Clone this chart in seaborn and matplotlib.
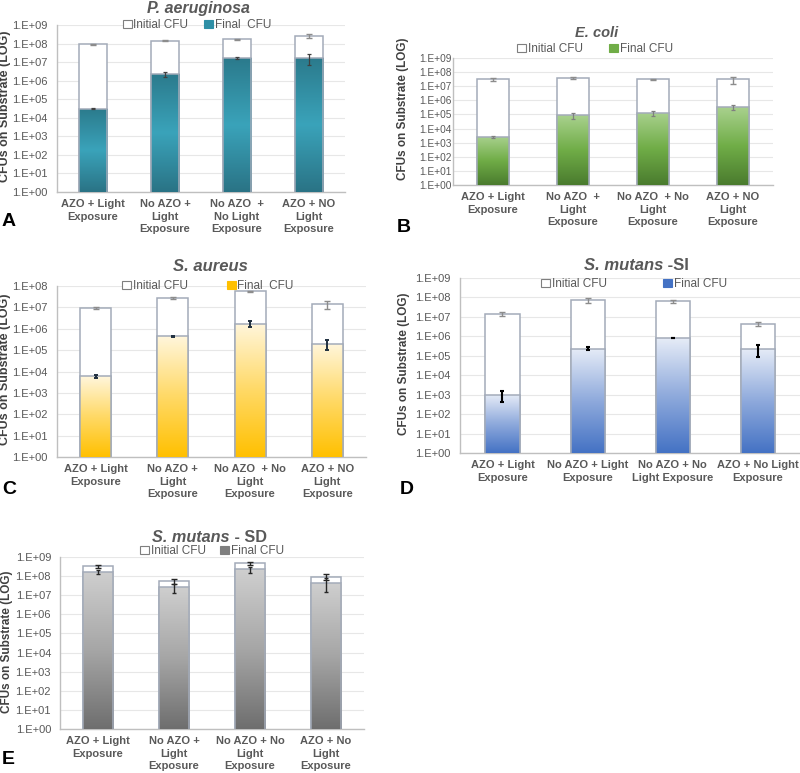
import numpy as np
import pandas as pd
import matplotlib
matplotlib.use("Agg")
import matplotlib.pyplot as plt
import seaborn as sns
from matplotlib.colors import LinearSegmentedColormap
from matplotlib.patches import Patch
from matplotlib.ticker import LogLocator, FuncFormatter, NullLocator

# CFU values
pa_labels = ["AZO + Light\nExposure", "No AZO +\nLight\nExposure",
             "No AZO  +\nNo Light\nExposure", "AZO + NO\nLight\nExposure"]
pa_initial = [9.0e7, 1.45e8, 1.7e8, 2.6e8]
pa_initial_sd = [5e6, 1.5e7, 8e6, 6.5e7]
pa_final = [3.0e4, 2.3e6, 1.6e7, 1.7e7]
pa_final_sd = [2e3, 8e5, 2e6, 1e7]

ec_labels = ["AZO + Light\nExposure", "No AZO  +\nLight\nExposure",
             "No AZO  + No\nLight\nExposure", "AZO + NO\nLight\nExposure"]
ec_initial = [3.0e7, 3.6e7, 3.0e7, 3.0e7]
ec_initial_sd = [6e6, 6e6, 4e6, 1.5e7]
ec_final = [2.6e3, 8.5e4, 1.3e5, 3.2e5]
ec_final_sd = [4e2, 4e4, 5e4, 1.2e5]

sa_labels = ["AZO + Light\nExposure", "No AZO +\nLight\nExposure",
             "No AZO  + No\nLight\nExposure", "AZO + NO\nLight\nExposure"]
sa_initial = [9.5e6, 2.8e7, 5.6e7, 1.4e7]
sa_initial_sd = [8e5, 3e6, 4e6, 6e6]
sa_final = [5.9e3, 4.5e5, 1.7e6, 2.0e5]
sa_final_sd = [1e3, 3e4, 5e5, 1e5]

si_labels = ["AZO + Light\nExposure", "No AZO + Light\nExposure",
             "No AZO + No\nLight Exposure", "AZO + No Light\nExposure"]
si_initial = [1.4e7, 7.0e7, 6.5e7, 4.5e6]
si_initial_sd = [3e6, 2e7, 1.2e7, 1.2e6]
si_final = [1.0e3, 2.3e5, 8.2e5, 2.3e5]
si_final_sd = [6e2, 4e4, 3e4, 1.4e5]

sd_labels = ["AZO + Light\nExposure", "No AZO +\nLight\nExposure",
             "No AZO + No\nLight\nExposure", "AZO + No\nLight\nExposure"]
sd_initial = [3.3e8, 5.5e7, 4.7e8, 9.3e7]
sd_initial_sd = [5e7, 1.5e7, 1e8, 3e7]
sd_final = [1.7e8, 2.7e7, 2.3e8, 4.5e7]
sd_final_sd = [4e7, 1.4e7, 8e7, 3e7]

W, H = 800, 773
GREY = "#595959"
EDGE = "#a3abb9"

sns.set_style("white")
plt.rcParams["font.family"] = ["Liberation Sans", "DejaVu Sans"]


def px_rect(l, t, r, b):
    return [l / W, 1 - b / H, (r - l) / W, (b - t) / H]


def fx(x):
    return x / W


def fy(y):
    return 1 - y / H


def draw_panel(fig, rect, labels, initial, initial_sd, final, final_sd, ymax,
               colors, ini_ecolor, fin_ecolor, fin_elw, ytick_size, ytick_pad):
    ax = fig.add_axes(rect)
    df = pd.DataFrame({"cond": labels, "initial": initial, "final": final})
    sns.barplot(data=df, x="cond", y="initial", color="white", edgecolor=EDGE,
                linewidth=1.1, width=0.4, ax=ax, zorder=2)
    n_init = len(ax.patches)
    sns.barplot(data=df, x="cond", y="final", color=colors[-1], edgecolor=EDGE,
                linewidth=1.1, width=0.4, ax=ax, zorder=4)
    final_bars = ax.patches[n_init:]

    ax.set_yscale("log")
    ax.set_ylim(1, ymax)
    ax.set_xlim(-0.5, len(labels) - 0.5)
    ax.set_autoscale_on(False)

    x = np.arange(len(labels))
    ax.errorbar(x, initial, yerr=initial_sd, fmt="none", ecolor=ini_ecolor,
                elinewidth=1, capsize=2, capthick=1, zorder=3)
    ax.errorbar(x, final, yerr=final_sd, fmt="none", ecolor=fin_ecolor,
                elinewidth=fin_elw, capsize=1.5, capthick=fin_elw, zorder=6)

    # vertical gradient fill for each final bar (top -> bottom colours)
    cmap = LinearSegmentedColormap.from_list("grad", colors)
    grad = np.linspace(0, 1, 256).reshape(-1, 1)
    to_axes = ax.transData + ax.transAxes.inverted()
    for bar in final_bars:
        x0 = bar.get_x()
        x1 = x0 + bar.get_width()
        top = bar.get_height()
        (ax0, ay0), (ax1, ay1) = to_axes.transform([(x0, 1), (x1, top)])
        im = ax.imshow(grad, cmap=cmap, extent=[ax0, ax1, ay0, ay1],
                       transform=ax.transAxes, aspect="auto", origin="upper",
                       interpolation="bilinear", zorder=4.5)
        im.set_clip_path(bar)
        bar.set_facecolor("none")
        bar.set_zorder(5)

    ax.yaxis.set_major_locator(LogLocator(base=10, numticks=20))
    ax.yaxis.set_minor_locator(NullLocator())
    ax.yaxis.set_major_formatter(
        FuncFormatter(lambda v, _: f"1.E+{int(round(np.log10(v))):02d}"))
    ax.yaxis.grid(True, color="#e7e7e7", lw=0.8)
    ax.xaxis.grid(False)
    ax.set_axisbelow(True)
    for s in ["top", "right"]:
        ax.spines[s].set_visible(False)
    for s in ["left", "bottom"]:
        ax.spines[s].set_color("#bfbfbf")
        ax.spines[s].set_linewidth(1)
    ax.tick_params(axis="y", length=0, pad=ytick_pad, labelsize=ytick_size,
                   labelcolor=GREY)
    ax.tick_params(axis="x", length=0, pad=5)
    ax.set_xticks(x, labels, fontsize=8, fontweight="bold", color=GREY)
    for lbl in ax.get_xticklabels():
        lbl.set_linespacing(1.33)
    ax.set_xlabel("")
    ax.set_ylabel("")
    return ax


def panel_text(fig, ax, title, rest, tx, ty, tsize, leg_xy, leg_colsp,
               final_label, final_color, ylab_xy, ylab_size, letter, letter_xy):
    if rest:
        t = fig.text(fx(tx), fy(ty), title, ha="right", va="center",
                     fontsize=tsize, fontweight="bold", fontstyle="italic",
                     color=GREY)
        ax.annotate(rest, xy=(1, 0), xycoords=t, ha="left", va="bottom",
                    fontsize=tsize, fontweight="bold", color=GREY,
                    annotation_clip=False)
    else:
        fig.text(fx(tx), fy(ty), title, ha="center", va="center",
                 fontsize=tsize, fontweight="bold", fontstyle="italic",
                 color=GREY)
    handles = [Patch(facecolor="white", edgecolor="#7f7f7f", lw=0.8),
               Patch(facecolor=final_color, edgecolor=final_color, lw=0.8)]
    fig.legend(handles, ["Initial CFU", final_label], loc="center",
               bbox_to_anchor=(fx(leg_xy[0]), fy(leg_xy[1])), ncol=2,
               frameon=False, fontsize=8.5, handlelength=0.75,
               handleheight=0.75, handletextpad=0.15,
               columnspacing=leg_colsp, labelcolor=GREY, borderpad=0)
    fig.text(fx(ylab_xy[0]), fy(ylab_xy[1]), "CFUs on Substrate (LOG)",
             rotation=90, ha="center", va="center", fontsize=ylab_size,
             fontweight="bold", color="#404040")
    fig.text(fx(letter_xy[0]), fy(letter_xy[1]), letter, ha="center",
             va="center", fontsize=14, fontweight="bold", color="black")


fig = plt.figure(figsize=(8, 7.73), dpi=100)

ax_a = draw_panel(fig, px_rect(57, 25, 345, 192), pa_labels, pa_initial,
                  pa_initial_sd, pa_final, pa_final_sd, 1e9,
                  ["#2b7a8c", "#3aa3ba", "#2a7385"], "#8c8c8c", "#404040",
                  0.9, 8, 7)
panel_text(fig, ax_a, "P. aeruginosa", None, 198, 8, 11.5, (197, 25), 1.35,
           "Final  CFU", "#2e8fa6", (5, 106), 9, "A", (9, 221))

ax_b = draw_panel(fig, px_rect(453, 58, 773, 185), ec_labels, ec_initial,
                  ec_initial_sd, ec_final, ec_final_sd, 1e9,
                  ["#a9d18e", "#70ad47", "#4a7b2e"], "#8c8c8c", "#7f7f7f",
                  0.9, 7.3, 1)
panel_text(fig, ax_b, "E. coli", None, 597, 33, 10.5, (595, 49), 2.2,
           "Final CFU", "#70ad47", (403, 109), 8.5, "B", (404, 227))

ax_c = draw_panel(fig, px_rect(57, 286, 366, 457), sa_labels, sa_initial,
                  sa_initial_sd, sa_final, sa_final_sd, 1e8,
                  ["#fff6dc", "#ffd966", "#ffc000"], "#8c8c8c", "#203040",
                  1.4, 8, 7)
panel_text(fig, ax_c, "S. aureus", None, 210, 267, 12, (208, 286), 3.3,
           "Final  CFU", "#ffc000", (5, 369), 9, "C", (9, 489))

ax_d = draw_panel(fig, px_rect(460, 278, 800, 453), si_labels, si_initial,
                  si_initial_sd, si_final, si_final_sd, 1e9,
                  ["#e6ecf7", "#8faadc", "#4472c4"], "#8c8c8c", "black",
                  1.5, 8, 7)
panel_text(fig, ax_d, "S. mutans", " -SI", 663, 265, 12, (634, 284), 4.8,
           "Final CFU", "#4472c4", (404, 364), 8.5, "D", (407, 490))

ax_e = draw_panel(fig, px_rect(60, 557, 364, 729), sd_labels, sd_initial,
                  sd_initial_sd, sd_final, sd_final_sd, 1e9,
                  ["#cfcfcf", "#a6a6a6", "#6e6e6e"], "#262626", "#262626",
                  1.0, 8, 6.5)
panel_text(fig, ax_e, "S. mutans", " - SD", 230, 537, 11.7, (212, 551), 1.2,
           "Final CFU", "#7f7f7f", (7, 642), 8.5, "E", (8, 759))

fig.savefig("out.png", dpi=100)
